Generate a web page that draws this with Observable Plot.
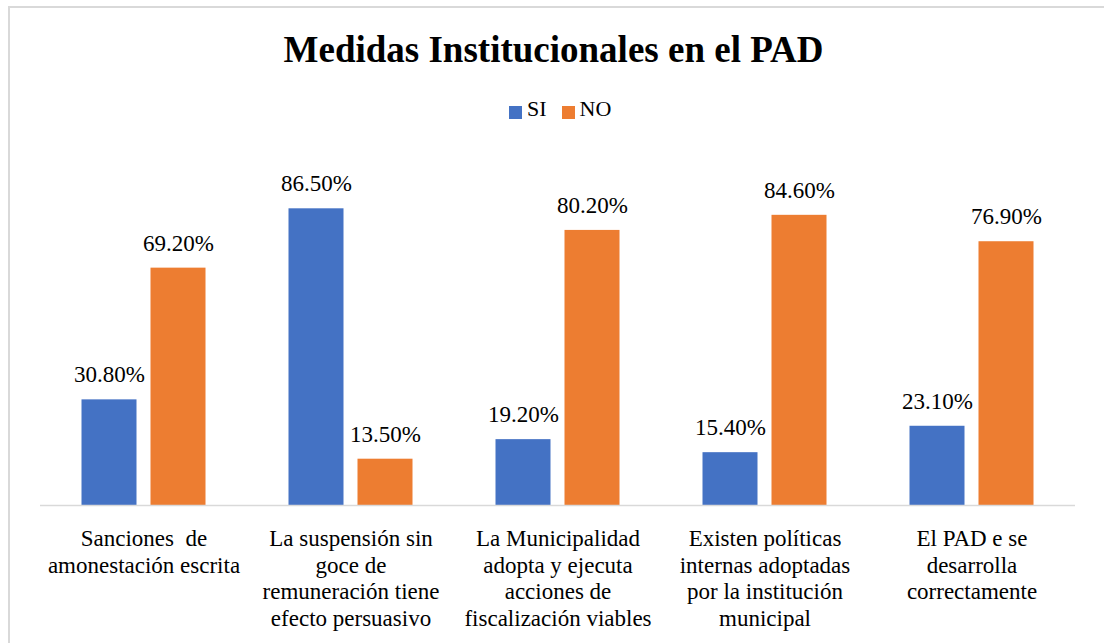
<!DOCTYPE html>
<html>
<head>
<meta charset="utf-8">
<script src="https://cdn.jsdelivr.net/npm/d3@7"></script>
<script src="https://cdn.jsdelivr.net/npm/@observablehq/plot@0.6"></script>
<style>
  html, body { margin: 0; padding: 0; background: #fff; }
  #wrap { position: relative; width: 1104px; height: 643px; overflow: hidden; font-family: "Liberation Serif", "Times New Roman", serif; color: #000; }
  #frame { position: absolute; left: 8px; top: 6px; width: 1200px; height: 700px; border-left: 2px solid #d9d9d9; border-top: 2px solid #d9d9d9; }
  #title { position: absolute; left: 0; top: 31px; width: 1107px; text-align: center; font-weight: bold; font-size: 37px; line-height: 37px; }
  #legend { position: absolute; left: 509px; top: 98px; display: flex; align-items: center; font-size: 22px; line-height: 22px; }
  .sw { display: inline-block; width: 13px; height: 13px; margin-right: 5px; position: relative; top: 3px; }
  .item { display: flex; align-items: center; margin-right: 15px; }
  #chart { position: absolute; left: 0; top: 140px; }
</style>
</head>
<body>
<div id="wrap">
  <div id="frame"></div>
  <div id="title">Medidas Institucionales en el PAD</div>
  <div id="legend"></div>
  <div id="chart"></div>
</div>
<script>
const categories = [
  "Sanciones  de\namonestación escrita",
  "La suspensión sin\ngoce de\nremuneración tiene\nefecto persuasivo",
  "La Municipalidad\nadopta y ejecuta\nacciones de\nfiscalización viables",
  "Existen políticas\ninternas adoptadas\npor la institución\nmunicipal",
  "El PAD e se\ndesarrolla\ncorrectamente"
];
const series = ["SI", "NO"];
const siValues = [30.8, 86.5, 19.2, 15.4, 23.1];
const noValues = [69.2, 13.5, 80.2, 84.6, 76.9];
const colors = ["#4472C4", "#ED7D31"];

const data = [];
categories.forEach((c, i) => {
  data.push({cat: c, s: "SI", v: siValues[i]});
  data.push({cat: c, s: "NO", v: noValues[i]});
});

// legend
const legend = document.getElementById("legend");
series.forEach((s, i) => {
  const it = document.createElement("div");
  it.className = "item";
  it.innerHTML = `<span class="sw" style="background:${colors[i]}"></span><span>${s}</span>`;
  legend.appendChild(it);
});

const serif = "'Liberation Serif', 'Times New Roman', serif";
const chart = Plot.plot({
  width: 1104,
  height: 503,
  marginLeft: 38.5,
  marginRight: 28,
  marginTop: 22,
  marginBottom: 138,
  style: {fontFamily: serif, color: "#000", background: "transparent"},
  fx: {domain: categories, padding: 0, label: null, axis: null},
  x: {domain: series, paddingInner: 0.2, paddingOuter: 0.6, axis: null},
  y: {domain: [0, 100], axis: null},
  color: {domain: series, range: colors},
  marks: [
    Plot.barY(data, {fx: "cat", x: "s", y: "v", fill: "s"}),
    Plot.ruleY([0], {stroke: "#d9d9d9", strokeWidth: 1.5}),
    Plot.text(data, {fx: "cat", x: "s", y: "v", text: d => d.v.toFixed(2) + "%", dy: -25, fontSize: 23, fill: "#000"}),
    Plot.axisFx({anchor: "bottom", tickSize: 0, tickPadding: 21.5, fontSize: 23, lineHeight: 1.16, label: null, fill: "#000"})
  ]
});
document.getElementById("chart").appendChild(chart);
</script>
</body>
</html>
